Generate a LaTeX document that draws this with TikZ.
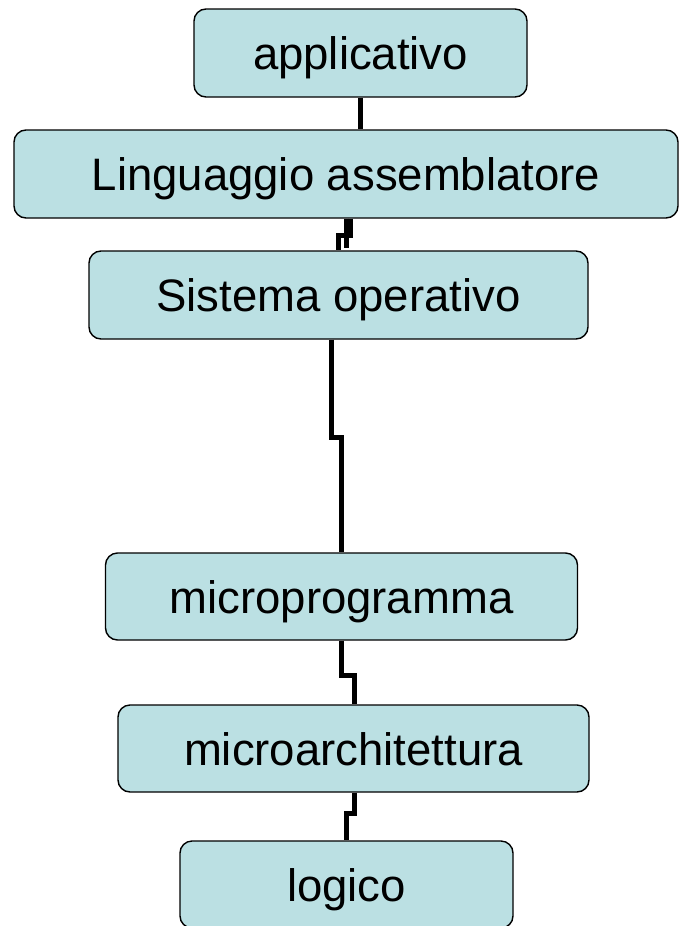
\documentclass[tikz,border=0pt]{standalone}
\usepackage{fontspec}
\setmainfont{Liberation Sans}
\definecolor{boxfill}{RGB}{187,224,227}
\begin{document}
\begin{tikzpicture}[x=1pt,y=-1pt,
  layer/.style={draw=black, line width=1.4pt, fill=boxfill, rounded corners=12pt,
    inner sep=0pt, minimum height=88pt, anchor=center,
    text height=37pt, text depth=3.5pt,
    font=\fontsize{45.5}{54}\selectfont},
  conn/.style={draw=black, line width=5pt, line join=miter}]
\useasboundingbox (0,0) rectangle (679,926);

% the six levels of the machine
\node[layer, minimum width=333pt] (app)   at (360.5,53)  {applicativo};
\node[layer, minimum width=664pt] (ling)  at (346,174)   {Linguaggio assemblatore};
\node[layer, minimum width=499pt] (sis)   at (338.5,295) {Sistema operativo};
\node[layer, minimum width=472pt, minimum height=87pt] (micro) at (341.5,596.5) {microprogramma};
\node[layer, minimum width=471pt, minimum height=87pt] (march) at (353.5,748.5) {microarchitettura};
\node[layer, minimum width=333pt, minimum height=87pt] (logic) at (346.5,884.5) {logico};

% links between adjacent levels
\draw[conn] (app.south) -- (app.south |- ling.north);
\draw[conn] ([xshift=0pt]ling.south) -- ++(0,29);
\draw[conn] ([xshift=4pt]ling.south) -- ++(0,16.5) -| ([xshift=0pt]sis.north);
\draw[conn] ([xshift=-7pt]sis.south) -- ++(0,98) -| ([xshift=-0.5pt]micro.north);
\draw[conn] ([xshift=-0.5pt]micro.south) -- ++(0,35) -| ([xshift=1pt]march.north);
\draw[conn] ([xshift=1pt]march.south) -- ++(0,21) -| ([xshift=-0.5pt]logic.north);
\end{tikzpicture}
\end{document}
